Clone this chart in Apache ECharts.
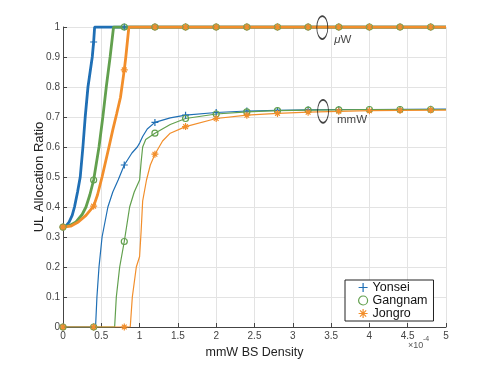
<!DOCTYPE html>
<html>
<head>
<meta charset="utf-8">
<script src="https://cdn.jsdelivr.net/npm/echarts@6/dist/echarts.min.js"></script>
<style>
  html, body { margin: 0; padding: 0; background: #fff; }
  #chart { width: 491px; height: 368px; }
</style>
</head>
<body>
<div id="chart"></div>
<script>
// marker positions (every 0.4e-4)
const markerX = [0, 0.4, 0.8, 1.2, 1.6, 2.0, 2.4, 2.8, 3.2, 3.6, 4.0, 4.4, 4.8];

// uW curves (thick)
const yonseiUwMarks = [0.333, 0.95, 1, 1, 1, 1, 1, 1, 1, 1, 1, 1, 1];
const gangnamUwMarks = [0.333, 0.49, 1, 1, 1, 1, 1, 1, 1, 1, 1, 1, 1];
const jongroUwMarks = [0.333, 0.403, 0.857, 1, 1, 1, 1, 1, 1, 1, 1, 1, 1];

const yonseiUwLine = [[0, 0.333], [0.04, 0.337], [0.08, 0.35], [0.12, 0.372], [0.15, 0.4], [0.19, 0.45],
  [0.225, 0.5], [0.26, 0.6], [0.29, 0.7], [0.326, 0.8], [0.382, 0.9], [0.4, 0.95], [0.413, 1], [5, 1]];
const gangnamUwLine = [[0, 0.333], [0.1, 0.34], [0.17, 0.35], [0.25, 0.375], [0.3, 0.4], [0.35, 0.44],
  [0.4, 0.49], [0.47, 0.6], [0.52, 0.7], [0.565, 0.8], [0.615, 0.9], [0.66, 1], [5, 1]];
const jongroUwLine = [[0, 0.333], [0.1, 0.336], [0.2, 0.35], [0.3, 0.372], [0.4, 0.403], [0.45, 0.44],
  [0.51, 0.5], [0.6, 0.6], [0.65, 0.657], [0.7, 0.71], [0.75, 0.765], [0.8, 0.857], [0.82, 0.9], [0.86, 1], [5, 1]];

// mmW curves (thin)
const yonseiMmwMarks = [0, 0, 0.54, 0.682, 0.706, 0.715, 0.72, 0.722, 0.724, 0.725, 0.725, 0.725, 0.726];
const gangnamMmwMarks = [0, 0, 0.285, 0.646, 0.695, 0.71, 0.717, 0.721, 0.723, 0.724, 0.725, 0.725, 0.725];
const jongroMmwMarks = [0, 0, 0, 0.576, 0.668, 0.695, 0.706, 0.712, 0.716, 0.719, 0.721, 0.722, 0.723];

const yonseiMmwLine = [[0, 0], [0.425, 0], [0.443, 0.1], [0.47, 0.2], [0.51, 0.3], [0.586, 0.4], [0.65, 0.45],
  [0.72, 0.49], [0.8, 0.54], [0.9, 0.58], [0.97, 0.6], [1.0, 0.613], [1.04, 0.635], [1.1, 0.66], [1.2, 0.682],
  [1.4, 0.697], [1.6, 0.706], [2.0, 0.715], [2.4, 0.72], [2.8, 0.722], [3.2, 0.724], [3.6, 0.725], [4.0, 0.725], [5, 0.726]];
const gangnamMmwLine = [[0, 0], [0.674, 0], [0.696, 0.1], [0.74, 0.2], [0.8, 0.285], [0.87, 0.4], [0.93, 0.45],
  [1.0, 0.49], [1.02, 0.55], [1.04, 0.6], [1.08, 0.625], [1.2, 0.646], [1.4, 0.675], [1.6, 0.695], [2.0, 0.71],
  [2.4, 0.717], [2.8, 0.721], [3.2, 0.723], [3.6, 0.724], [4.0, 0.725], [5, 0.725]];
const jongroMmwLine = [[0, 0], [0.878, 0], [0.905, 0.1], [0.957, 0.2], [1.0, 0.235], [1.02, 0.32], [1.04, 0.42],
  [1.09, 0.49], [1.14, 0.54], [1.2, 0.576], [1.3, 0.62], [1.4, 0.646], [1.6, 0.668], [2.0, 0.695], [2.4, 0.706],
  [2.8, 0.712], [3.2, 0.716], [3.6, 0.719], [4.0, 0.721], [4.4, 0.722], [5, 0.723]];

// ellipse annotations
const noteLabels = ['μW', 'mmW'];
const notePoints = [[3.385, 0.998], [3.395, 0.719]];

const xTicks = [0, 0.5, 1, 1.5, 2, 2.5, 3, 3.5, 4, 4.5, 5];
const yTicks = [0, 0.1, 0.2, 0.3, 0.4, 0.5, 0.6, 0.7, 0.8, 0.9, 1];

const BLUE = '#1f6fb5';
const GREEN = '#62a04e';
const ORANGE = '#f28e2b';
const CLEAR = 'rgba(0,0,0,0)';
const FONT = '"Liberation Sans", Arial, sans-serif';

const PLUS = 'path://M5,0L5,10M0,5L10,5';
const STAR = 'path://M5,0L5,10M0,5L10,5M1.6,1.6L8.4,8.4M8.4,1.6L1.6,8.4';

function lineSeries(data, color, width) {
	return {
		type: 'line', data, symbol: 'none', silent: true,
		lineStyle: { color, width }, z: width > 2 ? 3 : 2
	};
}

function markSeries(name, ys, symbol, color, size) {
	return {
		name, type: 'scatter', symbol, symbolSize: size, silent: true, z: 4,
		data: markerX.map((x, i) => [x, ys[i]]),
		itemStyle: { color: CLEAR, borderColor: color, borderWidth: 1.2, opacity: 1 }
	};
}

const chart = echarts.init(document.getElementById('chart'));

chart.setOption({
	animation: false,
	textStyle: { fontFamily: FONT },
	grid: { left: 63, right: 45, top: 27, bottom: 41 },
	xAxis: {
		type: 'value', min: 0, max: 5, interval: 0.5,
		name: 'mmW BS Density', nameLocation: 'middle', nameGap: 17,
		nameTextStyle: { fontSize: 12.5, color: '#222', fontFamily: FONT },
		axisLine: { lineStyle: { color: '#444', width: 1 } },
		axisTick: { inside: true, length: 4, lineStyle: { color: '#444' } },
		axisLabel: { fontSize: 10, color: '#444', margin: 4, formatter: v => xTicks.includes(v) ? String(v) : '' },
		splitLine: { show: true, lineStyle: { color: '#e3e3e3', width: 1 } }
	},
	yAxis: {
		type: 'value', min: 0, max: 1, interval: 0.1,
		name: 'UL Allocation Ratio', nameLocation: 'middle', nameGap: 17, nameMoveOverlap: false,
		nameTextStyle: { fontSize: 13, color: '#222', fontFamily: FONT },
		axisLine: { show: true, lineStyle: { color: '#444', width: 1 } },
		axisTick: { show: true, inside: true, length: 4, lineStyle: { color: '#444' } },
		axisLabel: { fontSize: 10, color: '#444', margin: 3,
			formatter: v => { const t = yTicks.find(k => Math.abs(k - v) < 1e-9); return t === undefined ? '' : String(t); } },
		splitLine: { show: true, lineStyle: { color: '#e3e3e3', width: 1 } }
	},
	legend: {
		left: 345, top: 280, orient: 'vertical',
		backgroundColor: '#fff', borderColor: '#222', borderWidth: 1,
		padding: [1, 6, 1, 13], itemGap: 0, itemWidth: 9, itemHeight: 9, itemTextGap: 10,
		textStyle: { fontSize: 12.5, lineHeight: 11, color: '#111', fontFamily: FONT },
		data: [
			{ name: 'Yonsei', icon: PLUS, itemStyle: { color: CLEAR, borderColor: BLUE, borderWidth: 1.2 } },
			{ name: 'Gangnam', icon: 'circle', itemStyle: { color: CLEAR, borderColor: GREEN, borderWidth: 1.2 } },
			{ name: 'Jongro', icon: STAR, itemStyle: { color: CLEAR, borderColor: ORANGE, borderWidth: 1.2 } }
		]
	},
	graphic: [
		{ type: 'text', left: 408, top: 341, style: { text: '×10', fontSize: 9, fill: '#555', fontFamily: FONT } },
		{ type: 'text', left: 423, top: 336, style: { text: '-4', fontSize: 7, fill: '#555', fontFamily: FONT } }
	],
	series: [
		lineSeries(yonseiMmwLine, BLUE, 1.2),
		lineSeries(gangnamMmwLine, GREEN, 1.2),
		lineSeries(jongroMmwLine, ORANGE, 1.2),
		lineSeries(yonseiUwLine, BLUE, 2.8),
		lineSeries(gangnamUwLine, GREEN, 2.8),
		lineSeries(jongroUwLine, ORANGE, 2.8),
		markSeries('Yonsei', yonseiMmwMarks, PLUS, BLUE, 7),
		markSeries('Gangnam', gangnamMmwMarks, 'circle', GREEN, 6),
		markSeries('Jongro', jongroMmwMarks, STAR, ORANGE, 7),
		markSeries('Yonsei', yonseiUwMarks, PLUS, BLUE, 7),
		markSeries('Gangnam', gangnamUwMarks, 'circle', GREEN, 6),
		markSeries('Jongro', jongroUwMarks, STAR, ORANGE, 7),
		{
			type: 'scatter', silent: true, z: 5,
			symbol: 'circle', symbolSize: [11, 23],
			itemStyle: { color: CLEAR, borderColor: '#111', borderWidth: 1.2 },
			data: notePoints.map((p, i) => ({ value: p, label: {
				show: true, position: 'right', distance: 6,
				offset: i === 0 ? [0, 12] : [2, 9],
				formatter: i === 0 ? '{m|μ}W' : noteLabels[i],
				fontSize: 11.5, color: '#111', fontFamily: FONT,
				rich: { m: { fontStyle: 'italic', fontSize: 11.5, fontFamily: FONT } }
			} }))
		}
	]
});
</script>
</body>
</html>
